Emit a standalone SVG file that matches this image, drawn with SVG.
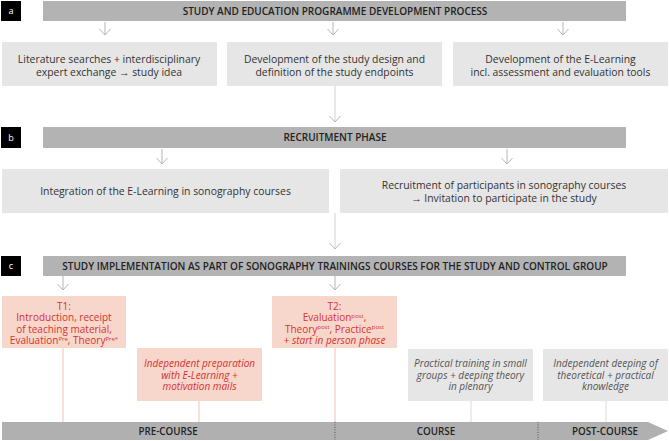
<svg xmlns="http://www.w3.org/2000/svg" width="669" height="441" viewBox="0 0 669 441">
<defs>
<marker id="arr" viewBox="0 0 7 12" refX="6.5" refY="6" markerWidth="7" markerHeight="12" markerUnits="userSpaceOnUse" orient="auto">
<path d="M0.5,0.5 L6.5,6 L0.5,11.5" fill="none" stroke="#b5b5b5" stroke-width="1"/>
</marker>
<style>
text{font-family:"Open Sans","Noto Sans","Liberation Sans",sans-serif;}
.lab{fill:#000;}
.labt{fill:#fff;font-size:9px;text-anchor:middle;}
.hdr{fill:#b3b3b3;}
.hdrt{fill:#222;font-size:10px;font-weight:600;text-anchor:middle;}
.box{fill:#e6e6e6;}
.boxt{fill:#333;font-size:10.4px;text-anchor:middle;}
.rbox{fill:#f7d6cc;}
.rt{fill:#d9322c;font-size:10px;text-anchor:middle;}
.it{font-style:italic;}
.gt{fill:#555;font-size:10px;text-anchor:middle;font-style:italic;}
.arr{stroke:#b5b5b5;stroke-width:1;fill:none;marker-end:url(#arr);}
.conn{stroke:#d2d2d2;stroke-width:1;fill:none;marker-end:url(#arr);}
.rl{stroke:#f3c3b4;stroke-width:1;}
.gl{stroke:#dcdcdc;stroke-width:1;}
.sup{font-size:6px;}
.tl{fill:#222;font-size:9.8px;font-weight:600;text-anchor:middle;}
.dot{stroke:#555;stroke-width:1;stroke-dasharray:1,1.5;}
</style>
</defs>

<g id="connectors">
<line class="arr" x1="105" y1="22" x2="105" y2="35"/>
<line class="arr" x1="333" y1="22" x2="333" y2="35"/>
<line class="arr" x1="563" y1="22" x2="563" y2="35"/>
<line class="conn" x1="335" y1="86" x2="335" y2="122"/>
<line class="arr" x1="162" y1="149" x2="162" y2="164"/>
<line class="arr" x1="507" y1="149" x2="507" y2="164"/>
<line class="conn" x1="335" y1="213" x2="335" y2="249"/>
<line class="arr" x1="63" y1="276" x2="63" y2="290"/>
<line class="arr" x1="335" y1="276" x2="335" y2="290"/>
<line class="rl" x1="63" y1="348" x2="63" y2="422"/>
<line class="rl" x1="199" y1="401" x2="199" y2="422"/>
<line class="rl" x1="335" y1="348" x2="335" y2="422"/>
<line class="gl" x1="471" y1="401" x2="471" y2="422"/>
<line class="gl" x1="606" y1="401" x2="606" y2="422"/>
</g>

<g id="label-a"><rect class="lab" x="1" y="1" width="20" height="20"/><text class="labt" x="11" y="14">a</text></g>
<g id="header-a"><rect class="hdr" x="43" y="1" width="583" height="20"/><text class="hdrt" x="335" y="14.5">STUDY AND EDUCATION PROGRAMME DEVELOPMENT PROCESS</text></g>
<g id="box-a1"><rect class="box" x="2" y="42" width="215" height="44"/><text class="boxt" x="109" y="62.5">Literature searches + interdisciplinary</text><text class="boxt" x="109" y="76">expert exchange → study idea</text></g>
<g id="box-a2"><rect class="box" x="227" y="42" width="215" height="44"/><text class="boxt" x="334.5" y="62.5">Development of the study design and</text><text class="boxt" x="334.5" y="76">definition of the study endpoints</text></g>
<g id="box-a3"><rect class="box" x="453" y="42" width="215" height="44"/><text class="boxt" x="560.5" y="62.5">Development of the E-Learning</text><text class="boxt" x="560.5" y="76">incl. assessment and evaluation tools</text></g>

<g id="label-b"><rect class="lab" x="1" y="127" width="20" height="21"/><text class="labt" x="11" y="141">b</text></g>
<g id="header-b"><rect class="hdr" x="43" y="127" width="583" height="21"/><text class="hdrt" x="335" y="141">RECRUITMENT PHASE</text></g>
<g id="box-b1"><rect class="box" x="2" y="169" width="327" height="44"/><text class="boxt" x="165.5" y="194.5">Integration of the E-Learning in sonography courses</text></g>
<g id="box-b2"><rect class="box" x="340" y="169" width="328" height="44"/><text class="boxt" x="504" y="189">Recruitment of participants in  sonography courses</text><text class="boxt" x="504" y="202">→ Invitation to participate in the study</text></g>

<g id="label-c"><rect class="lab" x="1" y="256" width="20" height="20"/><text class="labt" x="11" y="269">c</text></g>
<g id="header-c"><rect class="hdr" x="43" y="256" width="583" height="20"/><text class="hdrt" x="335" y="269.5">STUDY IMPLEMENTATION AS PART OF SONOGRAPHY TRAININGS COURSES FOR THE STUDY AND CONTROL GROUP</text></g>

<g id="t1"><rect class="rbox" x="2" y="296" width="124" height="52"/>
<text class="rt" x="64" y="309.5">T1:</text>
<text class="rt" x="64" y="321">Introduction, receipt</text>
<text class="rt" x="64" y="332.5">of teaching material,</text>
<text class="rt" x="64" y="344">Evaluation<tspan class="sup" dy="-3.5">Pre</tspan><tspan dy="3.5">, Theory</tspan><tspan class="sup" dy="-3.5">Pre*</tspan></text>
</g>
<g id="t2"><rect class="rbox" x="272" y="296" width="125" height="52"/>
<text class="rt" x="334.5" y="309.5">T2:</text>
<text class="rt" x="334.5" y="321">Evaluation<tspan class="sup" dy="-3.5">post</tspan><tspan dy="3.5">,</tspan></text>
<text class="rt" x="334.5" y="332.5">Theory<tspan class="sup" dy="-3.5">post</tspan><tspan dy="3.5">, Practice</tspan><tspan class="sup" dy="-3.5">post</tspan></text>
<text class="rt it" x="334.5" y="344">+ start in person phase</text>
</g>
<g id="prep"><rect class="rbox" x="137" y="348" width="125" height="53"/>
<text class="rt it" x="199.5" y="367">Independent preparation</text>
<text class="rt it" x="199.5" y="378.5">with E-Learning +</text>
<text class="rt it" x="199.5" y="390">motivation mails</text>
</g>
<g id="practical"><rect class="box" x="408" y="349" width="125" height="52"/>
<text class="gt" x="470.5" y="367">Practical training in small</text>
<text class="gt" x="470.5" y="378.5">groups + deeping theory</text>
<text class="gt" x="470.5" y="390">in plenary</text>
</g>
<g id="deeping"><rect class="box" x="543" y="349" width="125" height="52"/>
<text class="gt" x="605.5" y="367">Independent deeping of</text>
<text class="gt" x="605.5" y="378.5">theoretical + practical</text>
<text class="gt" x="605.5" y="390">knowledge</text>
</g>

<g id="timeline">
<polygon points="2,422 648,422 668,431 648,440 2,440" fill="#b0b0b0"/>
<line class="dot" x1="335" y1="422" x2="335" y2="440"/>
<line class="dot" x1="538" y1="422" x2="538" y2="440"/>
<text class="tl" x="168" y="434.5">PRE-COURSE</text>
<text class="tl" x="436" y="434.5">COURSE</text>
<text class="tl" x="605" y="434.5">POST-COURSE</text>
</g>
</svg>
